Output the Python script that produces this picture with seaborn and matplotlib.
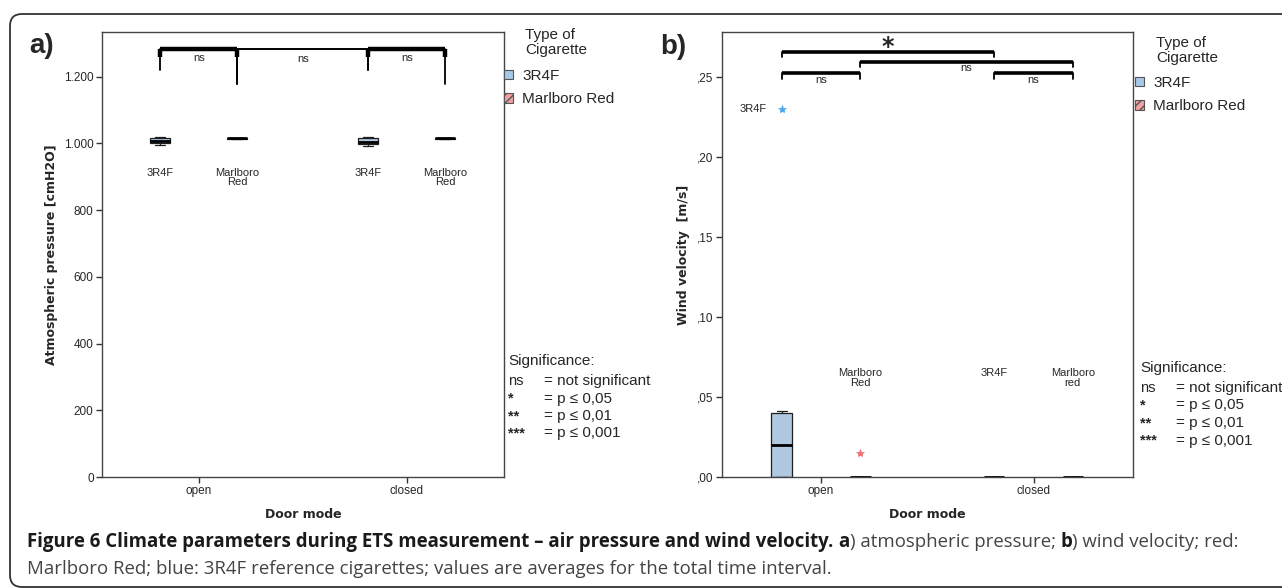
import numpy as np
import pandas as pd
import seaborn as sns
import matplotlib.pyplot as plt
from matplotlib.patches import Patch, FancyBboxPatch
from matplotlib.ticker import FuncFormatter
from matplotlib.transforms import IdentityTransform

sns.set_style("white")
plt.rcParams['font.family'] = ['Liberation Sans', 'DejaVu Sans']

# ---- data ----
door_modes = ['open', 'closed']
cig_types = ['3R4F', 'Marlboro Red']

# atmospheric pressure [cmH2O]
pressure_open_3r4f = [994, 1000, 1006, 1017, 1019]
pressure_open_mr = [1014, 1014.5, 1015, 1015.5, 1016]
pressure_closed_3r4f = [993, 999, 1005, 1016, 1018]
pressure_closed_mr = [1014, 1014.5, 1015, 1015.5, 1016]

# wind velocity [m/s]
wind_open_3r4f = [0, 0, 0, 0.01, 0.02, 0.03, 0.04, 0.041, 0.23]
wind_open_mr = [0, 0, 0, 0, 0, 0.015]
wind_closed_3r4f = [0, 0, 0, 0, 0]
wind_closed_mr = [0, 0, 0, 0, 0]

pressure_ticks = [0, 200, 400, 600, 800, 1000, 1200]
wind_ticks = [0, 0.05, 0.10, 0.15, 0.20, 0.25]

box_labels_a = {('open', '3R4F'): '3R4F', ('open', 'Marlboro Red'): 'Marlboro\nRed',
                ('closed', '3R4F'): '3R4F', ('closed', 'Marlboro Red'): 'Marlboro\nRed'}
box_labels_b = {('open', 'Marlboro Red'): 'Marlboro\nRed',
                ('closed', '3R4F'): '3R4F', ('closed', 'Marlboro Red'): 'Marlboro\nred'}

sig_rows = [('ns', '= not significant'), ('*', '= p \u2264 0,05'),
            ('**', '= p \u2264 0,01'), ('***', '= p \u2264 0,001')]

colors = {'3R4F': '#a8c8e8', 'Marlboro Red': '#f2a0a0'}
star_colors = {'3R4F': '#4aa8ec', 'Marlboro Red': '#f07070'}
hatches = {'3R4F': '', 'Marlboro Red': '////'}

W, H = 1282, 588
BOX_WIDTH = 0.74


def fx(px):
    return px / W


def fy(py):
    return 1 - py / H


def make_df(groups):
    rows = []
    for (door, cig), vals in groups.items():
        for v in vals:
            rows.append((door, cig, v))
    return pd.DataFrame(rows, columns=['door', 'cig', 'value'])


def hue_pos(door, cig):
    return door_modes.index(door) + (cig_types.index(cig) - 0.5) * BOX_WIDTH / 2


df_p = make_df({('open', '3R4F'): pressure_open_3r4f, ('open', 'Marlboro Red'): pressure_open_mr,
                ('closed', '3R4F'): pressure_closed_3r4f, ('closed', 'Marlboro Red'): pressure_closed_mr})
df_w = make_df({('open', '3R4F'): wind_open_3r4f, ('open', 'Marlboro Red'): wind_open_mr,
                ('closed', '3R4F'): wind_closed_3r4f, ('closed', 'Marlboro Red'): wind_closed_mr})

fig = plt.figure(figsize=(W / 100, H / 100), dpi=100)
ax1 = fig.add_axes([fx(102), fy(477), fx(504 - 102), (477 - 32) / H])
ax2 = fig.add_axes([fx(722), fy(477), fx(1133 - 722), (477 - 32) / H])


def draw_boxes(ax, df):
    sns.boxplot(data=df, x='door', y='value', hue='cig', order=door_modes, hue_order=cig_types,
                palette=colors, width=BOX_WIDTH, gap=0.74, linecolor='#1e1e1e', linewidth=0.9,
                fliersize=6, flierprops=dict(marker='*'), medianprops=dict(lw=2, color='black'),
                legend=False, ax=ax)
    for cig, cont in zip(cig_types, ax.containers):
        for b in cont.boxes:
            b.set_hatch(hatches[cig])
        for f in cont.fliers:
            f.set_markerfacecolor(star_colors[cig])
            f.set_markeredgecolor(star_colors[cig])
            f.set_markeredgewidth(0.5)
    ax.set_xlim(-0.466, 1.468)
    ax.set_xlabel('Door mode', fontfamily='DejaVu Sans', fontweight='bold', fontsize=9, labelpad=7.5)
    ax.tick_params(axis='both', direction='out', length=4, width=1, left=True, bottom=True,
                   labelsize=8.5, pad=2, color='#333333')
    for s in ax.spines.values():
        s.set_color('#444444')
        s.set_linewidth(1)


draw_boxes(ax1, df_p)
draw_boxes(ax2, df_w)

# axis a
ax1.set_ylim(0, 1334)
ax1.set_yticks(pressure_ticks)
ax1.yaxis.set_major_formatter(FuncFormatter(lambda v, p: f'{v:,.0f}'.replace(',', '.')))
ax1.set_ylabel('Atmospheric pressure [cmH2O]', fontfamily='DejaVu Sans', fontweight='bold', fontsize=9)
ax1.yaxis.set_label_coords((58 - 102) / 402, 0.5)
for (door, cig), lab in box_labels_a.items():
    ax1.text(hue_pos(door, cig), 927, lab, ha='center', va='top', fontsize=8, linespacing=0.95)

# axis b
ax2.set_ylim(0, 0.278)
ax2.set_yticks(wind_ticks)
ax2.yaxis.set_major_formatter(FuncFormatter(lambda v, p: f'{v:.2f}'.replace('0.', ',')))
ax2.set_ylabel('Wind velocity  [m/s]', fontfamily='DejaVu Sans', fontweight='bold', fontsize=9)
ax2.yaxis.set_label_coords((690 - 722) / 411, 0.5)
for (door, cig), lab in box_labels_b.items():
    ax2.text(hue_pos(door, cig), 0.068, lab, ha='center', va='top', fontsize=8, linespacing=0.95)
# case label next to the 3R4F outlier
fl = ax2.containers[0].fliers[0]
if len(fl.get_xdata()):
    ax2.annotate('3R4F', (fl.get_xdata()[0], fl.get_ydata()[0]), xytext=(-11, 0),
                 textcoords='offset points', ha='right', va='center', fontsize=8)


# significance brackets
def bracket(ax, a, b, h, leg_a, leg_b, lw, label=None, ly=None, fs=8, tip=None):
    xa, xb = hue_pos(*a), hue_pos(*b)
    ax.plot([xa, xb], [h, h], color='black', lw=lw, solid_capstyle='butt')
    t = tip if tip is not None else h
    ax.plot([xa, xa], [t, h], color='black', lw=lw, solid_capstyle='butt')
    ax.plot([xb, xb], [t, h], color='black', lw=lw, solid_capstyle='butt')
    ax.plot([xa, xa], [leg_a, h], color='black', lw=1.3)
    ax.plot([xb, xb], [leg_b, h], color='black', lw=1.3)
    if label:
        ax.text((xa + xb) / 2, ly, label, ha='center', va='center', fontsize=fs)


bracket(ax1, ('open', '3R4F'), ('open', 'Marlboro Red'), 1284, 1221, 1179, 3.2, 'ns', 1256, tip=1258)
bracket(ax1, ('open', 'Marlboro Red'), ('closed', '3R4F'), 1282, 1179, 1221, 1.4, 'ns', 1254)
bracket(ax1, ('closed', '3R4F'), ('closed', 'Marlboro Red'), 1284, 1221, 1179, 3.2, 'ns', 1256, tip=1258)

bracket(ax2, ('open', '3R4F'), ('closed', '3R4F'), 0.2655, 0.2625, 0.2625, 2.6)
ax2.text((hue_pos('open', '3R4F') + hue_pos('closed', '3R4F')) / 2, 0.2685, '*',
         ha='center', va='center', fontsize=17, fontweight='bold', fontfamily='DejaVu Sans')
bracket(ax2, ('open', 'Marlboro Red'), ('closed', 'Marlboro Red'), 0.2595, 0.2560, 0.2560, 2.6,
        'ns', 0.2555)
bracket(ax2, ('open', '3R4F'), ('open', 'Marlboro Red'), 0.2525, 0.2485, 0.2485, 2.6, 'ns', 0.2480)
bracket(ax2, ('closed', '3R4F'), ('closed', 'Marlboro Red'), 0.2525, 0.2485, 0.2485, 2.6, 'ns', 0.2480)

# panel letters
fig.text(fx(29), fy(46), 'a)', fontsize=20, fontweight='bold', va='center')
fig.text(fx(660), fy(47), 'b)', fontsize=20, fontweight='bold', va='center')

# legends
handles = [Patch(facecolor=colors[c], edgecolor='#555555', hatch=hatches[c], lw=0.8) for c in cig_types]
for lx, ty, hy in [(504, 28, 69), (1135, 36, 76)]:
    fig.text(fx(lx + 21), fy(ty), 'Type of\nCigarette', fontsize=11, va='top', linespacing=1.05)
    fig.legend(handles, cig_types, loc='upper left', bbox_to_anchor=(fx(lx), fy(hy)), frameon=False,
               fontsize=11, handlelength=0.6, handleheight=0.6, handletextpad=0.6,
               labelspacing=0.6, borderpad=0, borderaxespad=0)

for sx, sy in [(508, 361), (1140, 368)]:
    fig.text(fx(sx), fy(sy), 'Significance:', fontsize=11, va='center')
    for i, (k, v) in enumerate(sig_rows):
        yy = sy + 20 + i * 17.5
        fig.text(fx(sx), fy(yy), k, fontsize=10.5, va='center',
                 fontweight='bold' if k != 'ns' else 'normal')
        fig.text(fx(sx + 36), fy(yy), v, fontsize=11, va='center')


# caption with mixed weights
def draw_runs(x, y, runs, **kw):
    r = fig.canvas.get_renderer()
    for s, weight, col in runs:
        fig.text(fx(x), fy(y), s, fontweight=weight, color=col, va='center', **kw)
        probe = fig.text(0, 0, s + 'x', fontweight=weight, **kw)
        px = fig.text(0, 0, 'x', fontweight=weight, **kw)
        x += probe.get_window_extent(r).width - px.get_window_extent(r).width
        probe.remove()
        px.remove()


cap_kw = dict(fontsize=13.4, fontfamily=['Open Sans', 'DejaVu Sans'])
draw_runs(27, 542, [
    ('Figure 6 Climate parameters during ETS measurement \u2013 air pressure and wind velocity.', 'bold', '#1a1a1a'),
    (' ', 'normal', '#444444'),
    ('a', 'bold', '#1a1a1a'),
    (') atmospheric pressure; ', 'normal', '#444444'),
    ('b', 'bold', '#1a1a1a'),
    (') wind velocity; red:', 'normal', '#444444'),
], **cap_kw)
draw_runs(27, 569, [
    ('Marlboro Red; blue: 3R4F reference cigarettes; values are averages for the total time interval.',
     'normal', '#444444'),
], **cap_kw)

# rounded outer frame
frame = FancyBboxPatch((10, 1), 1400, 573, boxstyle='round,pad=0,rounding_size=12',
                       transform=IdentityTransform(), fill=False, edgecolor='#333333', lw=1.3)
fig.patches.append(frame)

fig.savefig('out.png', dpi=100)
